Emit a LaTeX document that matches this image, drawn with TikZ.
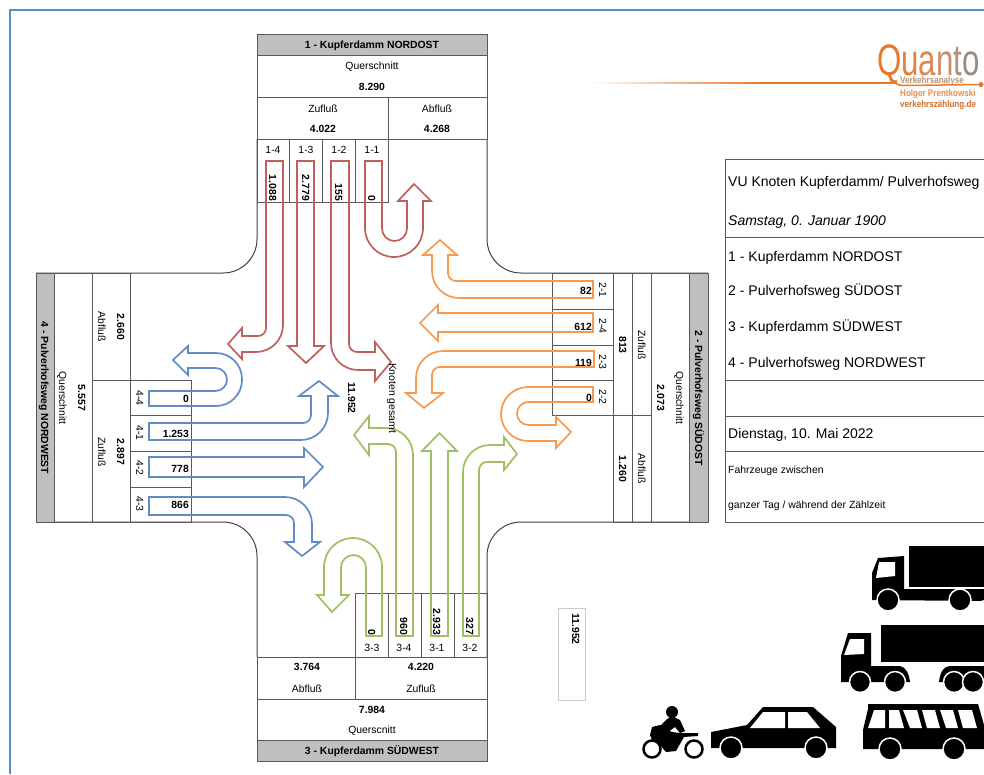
\documentclass[tikz,border=0pt]{standalone}
\usepackage{fontspec}
\setmainfont{Liberation Sans}
\definecolor{redarm}{HTML}{C0605C}
\definecolor{orangearm}{HTML}{F79A50}
\definecolor{greenarm}{HTML}{A0BE62}
\definecolor{bluearm}{HTML}{5F8CC4}
\definecolor{headgray}{HTML}{BFBFBF}
\definecolor{frameblue}{HTML}{5B8BC9}
\definecolor{logoorange}{HTML}{E8782A}
\tikzset{
  lbl/.style={font=\fontsize{10.4}{12}\selectfont, inner sep=0pt, text height=8pt, text depth=0pt},
  val/.style={font=\fontsize{10.4}{12}\selectfont\bfseries, inner sep=0pt, text height=8pt, text depth=0pt},
  info/.style={font=\fontsize{14}{16}\selectfont, inner sep=0pt, anchor=west, text height=10pt, text depth=0pt},
  small/.style={font=\fontsize{10.4}{12}\selectfont, inner sep=0pt, anchor=west, text height=8pt, text depth=0pt},
  logotext/.style={inner sep=0pt, anchor=base west, xscale=0.85, font=\fontsize{9.5}{10}\selectfont\bfseries},
  cell/.style={draw=black!65, line width=1pt},
  curb/.style={draw=black!75, line width=1pt},
  redarrow/.style={draw=redarm, line width=1.7pt},
  orangearrow/.style={draw=orangearm, line width=1.7pt},
  greenarrow/.style={draw=greenarm, line width=1.7pt},
  bluearrow/.style={draw=bluearm, line width=1.7pt},
  halo/.style={fill=black, draw=white, line width=1.5pt},
}
\begin{document}
\begin{tikzpicture}[x=1pt,y=-1pt]
    \useasboundingbox (0,0) rectangle (984,774);

    % Page frame
    \draw[frameblue, line width=2.5pt] (10,774) -- (10,10) -- (984,10);

    % Curbs of the junction
    \draw[curb] (257,139) [rounded corners=34pt] -- (257,273) [sharp corners] -- (36,273);
    \draw[curb] (487,139) [rounded corners=34pt] -- (487,273) [sharp corners] -- (708,273);
    \draw[curb] (36,522) [rounded corners=34pt] -- (257,522) [sharp corners] -- (257,657);
    \draw[curb] (708,522) [rounded corners=34pt] -- (487,522) [sharp corners] -- (487,657);

    % Arm 1 table
    \fill[headgray] (257,34) rectangle (487,55);
    \draw[cell] (257,34) rectangle (487,139);
    \draw[cell] (257,55) -- (487,55);
    \draw[cell] (257,97) -- (487,97);
    \draw[cell] (388,97) -- (388,139);
    \draw[cell] (257,139) rectangle (388,202);
    \foreach \x in {289,322,355}
        \draw[cell] (\x,139) -- (\x,202);

    % Arm 2 table
    \fill[headgray] (689,273) rectangle (708,522);
    \draw[cell] (613,273) rectangle (708,522);
    \foreach \x in {632,651,689}
        \draw[cell] (\x,273) -- (\x,522);
    \draw[cell] (552,273) rectangle (613,415);
    \draw[cell] (613,415) -- (651,415);
    \foreach \y in {309,345,380}
        \draw[cell] (552,\y) -- (613,\y);

    % Arm 3 table
    \fill[headgray] (257,740) rectangle (487,761);
    \draw[cell] (257,657) rectangle (487,761);
    \draw[cell] (257,699) -- (487,699);
    \draw[cell] (257,740) -- (487,740);
    \draw[cell] (355,657) -- (355,699);
    \draw[cell] (355,593) rectangle (487,657);
    \foreach \x in {388,421,454}
        \draw[cell] (\x,593) -- (\x,657);

    % Arm 4 table
    \fill[headgray] (36,273) rectangle (54,522);
    \draw[cell] (36,273) rectangle (130,522);
    \foreach \x in {54,92}
        \draw[cell] (\x,273) -- (\x,522);
    \draw[cell] (92,380) -- (130,380);
    \draw[cell] (130,380) rectangle (191,522);
    \foreach \y in {415,451,487}
        \draw[cell] (130,\y) -- (191,\y);

    % Red arrows
    \draw[redarrow] (266,161) -- (283,161) [rounded corners=27pt] -- (283,352) [sharp corners] -- (242,352) -- (242,359) -- (228,344) -- (242,328) -- (242,336) [rounded corners=8pt] -- (266,336) [sharp corners] -- cycle;
    \draw[redarrow] (297,161) -- (314,161) -- (314,346) -- (324,346) -- (306,363) -- (288,346) -- (297,346) -- cycle;
    \draw[redarrow] (331,161) -- (349,161) [rounded corners=8pt] -- (349,352) [sharp corners] -- (375,352) -- (375,342) -- (391,362) -- (375,381) -- (375,370) [rounded corners=27pt] -- (331,370) [sharp corners] -- cycle;
    \draw[redarrow] (365,161) -- (382,161) [rounded corners=12.5pt] -- (382,241) -- (407,241) [sharp corners] -- (407,201) -- (398,201) -- (414,184) -- (431,201) -- (423,201) [rounded corners=29pt] -- (423,257) -- (365,257) [sharp corners] -- cycle;

    % Orange arrows
    \draw[orangearrow] (593,281) [rounded corners=8pt] -- (448,281) [sharp corners] -- (448,255) -- (457,255) -- (440,240) -- (423,255) -- (432,255) [rounded corners=27pt] -- (432,298) [sharp corners] -- (593,298) -- cycle;
    \draw[orangearrow] (593,313) -- (438,313) -- (438,305) -- (420,323) -- (438,341) -- (438,332) -- (593,332) -- cycle;
    \draw[orangearrow] (594,351) [rounded corners=27pt] -- (416,351) [sharp corners] -- (416,393) -- (406,393) -- (424,408) -- (443,393) -- (432,393) [rounded corners=8pt] -- (432,367) [sharp corners] -- (594,367) -- cycle;
    \draw[orangearrow] (593,387) [rounded corners=27pt] -- (501,387) -- (501,441) [sharp corners] -- (556,441) -- (556,448) -- (571,432) -- (556,417) -- (556,425) [rounded corners=11.5pt] -- (517,425) -- (517,402) [sharp corners] -- (593,402) -- cycle;

    % Green arrows
    \draw[greenarrow] (366,636) [rounded corners=12.5pt] -- (366,555) -- (341,555) [sharp corners] -- (341,595) -- (349,595) -- (332,612) -- (317,595) -- (324,595) [rounded corners=29pt] -- (324,538) -- (382,538) [sharp corners] -- (382,636) -- cycle;
    \draw[greenarrow] (396,636) [rounded corners=8pt] -- (396,444) [sharp corners] -- (369,444) -- (369,455) -- (354,435) -- (369,416) -- (369,428) [rounded corners=27pt] -- (413,428) [sharp corners] -- (413,636) -- cycle;
    \draw[greenarrow] (431,636) -- (431,451) -- (422,451) -- (439.5,433) -- (457,451) -- (448,451) -- (448,636) -- cycle;
    \draw[greenarrow] (463,636) [rounded corners=27pt] -- (463,445) [sharp corners] -- (504,445) -- (504,437) -- (517,454) -- (504,470) -- (504,462) [rounded corners=8pt] -- (479,462) [sharp corners] -- (479,636) -- cycle;

    % Blue arrows
    \draw[bluearrow] (149,391) [rounded corners=11.5pt] -- (227,391) -- (227,368) [sharp corners] -- (188,368) -- (188,375) -- (173,360) -- (188,346) -- (188,353) [rounded corners=26pt] -- (242,353) -- (242,406) [sharp corners] -- (149,406) -- cycle;
    \draw[bluearrow] (149,423) [rounded corners=8pt] -- (311,423) [sharp corners] -- (311,396) -- (299,396) -- (319,381) -- (338,396) -- (328,396) [rounded corners=27pt] -- (328,440) [sharp corners] -- (149,440) -- cycle;
    \draw[bluearrow] (149,457) -- (304,457) -- (304,448) -- (323,467) -- (304,487) -- (304,477) -- (149,477) -- cycle;
    \draw[bluearrow] (149,497) [rounded corners=27pt] -- (312,497) [sharp corners] -- (312,542) -- (320,542) -- (302,556) -- (285,542) -- (294,542) [rounded corners=8pt] -- (294,515) [sharp corners] -- (149,515) -- cycle;

    % Arm 1 labels
    \node[val] (titleA) at (372,44.5) {1 - Kupferdamm NORDOST};
    \node[lbl] (querA) at (372,65) {Querschnitt};
    \node[val] (sumA) at (372,86) {8.290};
    \node[lbl] (zuA) at (323,108) {Zufluß};
    \node[val] (zuvalA) at (323,128) {4.022};
    \node[lbl] (abA) at (437,108) {Abfluß};
    \node[val] (abvalA) at (437,128) {4.268};
    \foreach \x/\lane/\count in {273/1-4/1.088,306/1-3/2.779,339/1-2/155,372/1-1/0} {
        \node[lbl] (lane\lane) at (\x,149) {\lane};
        \node[val,rotate=-90,anchor=east] (count\lane) at (\x,201) {\count};
    }

    % Arm 2 labels
    \node[val,rotate=-90] (titleB) at (699,398) {2 - Pulverhofsweg SÜDOST};
    \node[lbl,rotate=-90] (querB) at (680,398) {Querschnitt};
    \node[val,rotate=-90] (sumB) at (661,398) {2.073};
    \node[lbl,rotate=-90] (zuB) at (642,345) {Zufluß};
    \node[val,rotate=-90] (zuvalB) at (623,345) {813};
    \node[lbl,rotate=-90] (abB) at (642,469) {Abfluß};
    \node[val,rotate=-90] (abvalB) at (623,469) {1.260};
    \foreach \y/\lane/\count in {290/2-1/82,326/2-4/612,362/2-3/119,397/2-2/0} {
        \node[lbl,rotate=-90] (lane\lane) at (603,\y) {\lane};
        \node[val,anchor=east] (count\lane) at (592,\y) {\count};
    }

    % Arm 3 labels
    \node[val] (titleC) at (372,750) {3 - Kupferdamm SÜDWEST};
    \node[lbl] (querC) at (372,729) {Querscnitt};
    \node[val] (sumC) at (372,709) {7.984};
    \node[lbl] (zuC) at (421,688) {Zufluß};
    \node[val] (zuvalC) at (421,666) {4.220};
    \node[lbl] (abC) at (307,688) {Abfluß};
    \node[val] (abvalC) at (307,666) {3.764};
    \foreach \x/\lane/\count in {372/3-3/0,404/3-4/960,437/3-1/2.933,470/3-2/327} {
        \node[lbl] (lane\lane) at (\x,647) {\lane};
        \node[val,rotate=-90,anchor=east] (count\lane) at (\x,635) {\count};
    }

    % Arm 4 labels
    \node[val,rotate=-90] (titleD) at (45,398) {4 - Pulverhofsweg NORDWEST};
    \node[lbl,rotate=-90] (querD) at (63,398) {Querschnitt};
    \node[val,rotate=-90] (sumD) at (82,398) {5.557};
    \node[lbl,rotate=-90] (zuD) at (102,452) {Zufluß};
    \node[val,rotate=-90] (zuvalD) at (121,452) {2.897};
    \node[lbl,rotate=-90] (abD) at (102,327) {Abfluß};
    \node[val,rotate=-90] (abvalD) at (121,327) {2.660};
    \foreach \y/\lane/\count in {398/4-4/0,433/4-1/1.253,468/4-2/778,504/4-3/866} {
        \node[lbl,rotate=-90] (lane\lane) at (140,\y) {\lane};
        \node[val,anchor=east] (count\lane) at (189,\y) {\count};
    }

    % Junction total
    \node[val,rotate=-90] (total) at (352,398) {11.952};
    \node[lbl,rotate=-90] (totaltext) at (393,398) {Knoten gesamt};
    \draw[draw=black!20, line width=1pt] (558,608) rectangle (585,700);
    \node[val,rotate=-90] (totalbox) at (576,629) {11.952};

    % Info panel
    \draw[cell] (984,159) -- (725,159) -- (725,522) -- (984,522);
    \foreach \y in {237,380,416,451}
        \draw[cell] (725,\y) -- (984,\y);
    \node[info] (infoname) at (728,181) {VU Knoten Kupferdamm/ Pulverhofsweg};
    \node[info] (infodate) at (728,220) {\itshape Samstag, 0. Januar 1900};
    \node[info] (infoA) at (728,256) {1 - Kupferdamm NORDOST};
    \node[info] (infoB) at (728,290) {2 - Pulverhofsweg SÜDOST};
    \node[info] (infoC) at (728,326) {3 - Kupferdamm SÜDWEST};
    \node[info] (infoD) at (728,362) {4 - Pulverhofsweg NORDWEST};
    \node[info] (infoday) at (728,433) {Dienstag, 10. Mai 2022};
    \node[small] (infotype) at (728,469) {Fahrzeuge zwischen};
    \node[small] (infotime) at (728,504) {ganzer Tag / während der Zählzeit};

    % Logo
    \shade[left color=white, right color=logoorange] (590,82) rectangle (760,83.5);
    \fill[logoorange] (760,82) rectangle (893,83.5);
    \draw[logoorange, line width=1.5pt] (893,82.7) .. controls (897,83) and (898,85.5) .. (903,85.5) -- (981,84.5);
    \fill[logoorange] (981,84.5) circle (2.5pt);
    \node[inner sep=0pt, anchor=base west, xscale=0.71, text depth=0pt, font=\fontsize{44}{44}\selectfont] (logoname) at (877,75)
        {\textcolor[HTML]{E8782A}{Q}\textcolor[HTML]{E58238}{u}\textcolor[HTML]{D98A52}{a}\textcolor[HTML]{C6906E}{n}\textcolor[HTML]{B09080}{t}\textcolor[HTML]{9A8C84}{o}};
    \node[logotext, text=logoorange!60!black!60!white] (logoA) at (900,83) {Verkehrsanalyse};
    \node[logotext, text=logoorange!85!white] (logoB) at (900,96) {Holger Prentkowski};
    \node[logotext, text=logoorange!90!black] (logoC) at (900,107) {verkehrszählung.de};

    % Truck
    \fill (909,546) rectangle (984,587);
    \fill (872,600) -- (872,573) -- (878,558) -- (904,556) -- (904,589) -- (984,589) -- (984,600) -- (980,601) -- cycle;
    \fill[white] (876,578) -- (879,562) -- (895,562) -- (895,576) -- cycle;
    \draw[halo] (888,600) circle (11pt);
    \draw[halo] (960,600) circle (11pt);

    % Articulated truck
    \fill (881,625) rectangle (984,662);
    \fill (841,682) -- (841,656) -- (848,633) -- (871,633) -- (871,666) -- (900,666) .. controls (906,667) and (909,674) .. (910,682) -- cycle;
    \fill[white] (844,655) -- (850,639) -- (864,639) -- (864,654) -- cycle;
    \fill (939,682) .. controls (940,672) and (944,666) .. (950,666) -- (984,666) -- (984,682) -- cycle;
    \draw[halo] (860,682) circle (10.5pt);
    \draw[halo] (895,682) circle (10.5pt);
    \draw[halo] (954,682) circle (10.5pt);
    \draw[halo] (973,682) circle (10.5pt);

    % Bus
    \fill (868,704) -- (978,704) -- (984,725) -- (984,749) -- (863,749) -- (863,730) -- (868,709) -- cycle;
    \fill[white] (868,728) -- (874,710) -- (885,710) -- (885,728) -- cycle;
    \fill[white] (889,710) -- (899,710) -- (904,728) -- (889,728) -- cycle;
    \fill[white] (903,710) -- (917,710) -- (922,728) -- (910,728) -- cycle;
    \fill[white] (922,710) -- (935,710) -- (940,728) -- (927,728) -- cycle;
    \fill[white] (940,710) -- (953,710) -- (958,728) -- (946,728) -- cycle;
    \fill[white] (958,710) -- (972,710) -- (977,728) -- (963,728) -- cycle;
    \draw[halo] (890,749) circle (11pt);
    \draw[halo] (954,749) circle (11pt);

    % Car
    \fill (711,748) -- (711,732) -- (747,725) -- (763,707) -- (813,707) -- (836,727) -- (836,748) -- cycle;
    \fill[white] (750,728) -- (763,712) -- (785,712) -- (785,728) -- cycle;
    \fill[white] (788,712) -- (807,712) -- (820,728) -- (788,728) -- cycle;
    \draw[halo] (731,748) circle (11pt);
    \draw[halo] (816,748) circle (11pt);

    % Motorcycle
    \draw[line width=2.5pt] (652,749) circle (8.5pt);
    \draw[line width=2.5pt] (694,749) circle (8.5pt);
    \fill (650,735) -- (652,727) -- (660,725) -- (664,728) -- (672,732) -- (680,733) -- (698,733) -- (698,736) -- (684,737) -- (676,751) -- (666,752) -- (660,745) -- (652,740) -- cycle;
    \fill (660,726) -- (667,719) -- (672,716) -- (680,720) -- (685,731) -- (680,733) -- (675,727) -- (668,732) -- (662,729) -- cycle;
    \fill (672,712) circle (6pt);
\end{tikzpicture}
\end{document}
